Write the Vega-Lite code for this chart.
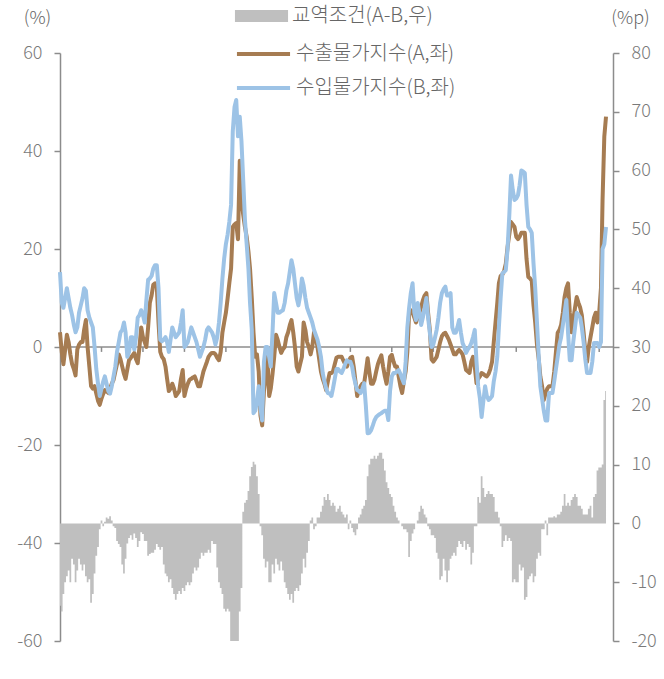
{
"$schema":"https://vega.github.io/schema/vega-lite/v6.json",
"width":553,"height":588,
"autosize":{"type":"none"},
"padding":{"left":60,"top":53,"right":51,"bottom":38},
"background":"white",
"config":{
"view":{"stroke":null},
"font":"Noto Sans CJK KR",
"axis":{"labelFont":"Noto Sans CJK KR","labelFontSize":18,"labelFontWeight":300,"labelColor":"#7a7a7a","domainColor":"#8c8c8c","tickColor":"#8c8c8c","domainWidth":1.5,"tickWidth":1.5,"grid":false,"titleFont":"Noto Sans CJK KR","titleFontSize":18,"titleFontWeight":300,"titleColor":"#666666"},
"legend":{"orient":"none","direction":"vertical","padding":0,"symbolSize":900,"labelOffset":15.5,"labelFontSize":20,"labelFontWeight":300,"labelFont":"Noto Sans CJK KR","labelColor":"#666666","rowPadding":0,"labelLimit":400}
},
"datasets":{
"tk":[{"d":"2002-01-01"},{"d":"2004-01-01"},{"d":"2006-01-01"},{"d":"2008-01-01"},{"d":"2010-01-01"},{"d":"2012-01-01"},{"d":"2014-01-01"},{"d":"2016-01-01"},{"d":"2018-01-01"},{"d":"2020-01-01"},{"d":"2022-01-01"},{"d":"2024-01-01"},{"d":"2026-01-01"}],
"s":[
{"d":"2000-01","a":3,"b":15.3,"t":-14},{"d":"2000-02","a":-1,"b":9,"t":-15},{"d":"2000-03","a":-3.5,"b":8,"t":-12},{"d":"2000-04","a":-0.5,"b":10,"t":-10},{"d":"2000-05","a":2.5,"b":12,"t":-9},{"d":"2000-06","a":1,"b":10,"t":-8},{"d":"2000-07","a":-1.5,"b":8,"t":-10},{"d":"2000-08","a":-3.5,"b":6.5,"t":-6},{"d":"2000-09","a":-4.5,"b":4.5,"t":-7},{"d":"2000-10","a":-5.8,"b":3,"t":-10},{"d":"2000-11","a":-0.5,"b":4,"t":-8},{"d":"2000-12","a":0.5,"b":7,"t":-6},
{"d":"2001-01","a":1,"b":8.5,"t":-7},{"d":"2001-02","a":1,"b":10,"t":-8},{"d":"2001-03","a":3.5,"b":12,"t":-7},{"d":"2001-04","a":5.5,"b":11.5,"t":-9},{"d":"2001-05","a":0,"b":7.5,"t":-10},{"d":"2001-06","a":-4,"b":6,"t":-9.5},{"d":"2001-07","a":-8,"b":5,"t":-13.5},{"d":"2001-08","a":-8.5,"b":4,"t":-12},{"d":"2001-09","a":-8,"b":0,"t":-8.5},{"d":"2001-10","a":-9.5,"b":-4.5,"t":-5.5},{"d":"2001-11","a":-11,"b":-7.5,"t":-4},{"d":"2001-12","a":-11.8,"b":-10,"t":-1},
{"d":"2002-01","a":-10.5,"b":-8.5,"t":0.5},{"d":"2002-02","a":-9.5,"b":-7,"t":-0.5},{"d":"2002-03","a":-8.8,"b":-6,"t":0.3},{"d":"2002-04","a":-9,"b":-7.5,"t":1},{"d":"2002-05","a":-9.4,"b":-9,"t":0.8},{"d":"2002-06","a":-8.5,"b":-9.5,"t":1.2},{"d":"2002-07","a":-7.5,"b":-8,"t":0.5},{"d":"2002-08","a":-6.7,"b":-6,"t":-0.5},{"d":"2002-09","a":-5,"b":-4,"t":-0.8},{"d":"2002-10","a":-3.5,"b":-1,"t":-3},{"d":"2002-11","a":-1.5,"b":1,"t":-3.5},{"d":"2002-12","a":-2.5,"b":3,"t":-4},
{"d":"2003-01","a":-4,"b":3.5,"t":-7},{"d":"2003-02","a":-5.5,"b":5,"t":-8.5},{"d":"2003-03","a":-6.5,"b":3,"t":-6},{"d":"2003-04","a":-4.5,"b":-2,"t":-3.4},{"d":"2003-05","a":-2.7,"b":-1,"t":-2.5},{"d":"2003-06","a":-2.2,"b":2,"t":-2},{"d":"2003-07","a":-1.7,"b":2,"t":-2.8},{"d":"2003-08","a":-1.2,"b":-0.5,"t":-1.7},{"d":"2003-09","a":-2.5,"b":2,"t":-2.5},{"d":"2003-10","a":-3.3,"b":6,"t":-4},{"d":"2003-11","a":0,"b":6.5,"t":-3},{"d":"2003-12","a":4,"b":7.5,"t":-1.5},
{"d":"2004-01","a":2,"b":6.5,"t":-1.8},{"d":"2004-02","a":1,"b":5,"t":-3},{"d":"2004-03","a":0,"b":9.5,"t":-3},{"d":"2004-04","a":4,"b":13.7,"t":-5.5},{"d":"2004-05","a":9,"b":14,"t":-5.2},{"d":"2004-06","a":10.5,"b":14.5,"t":-5},{"d":"2004-07","a":12.7,"b":16,"t":-5},{"d":"2004-08","a":13,"b":16.7,"t":-4.5},{"d":"2004-09","a":12.3,"b":16.7,"t":-3.5},{"d":"2004-10","a":5,"b":12,"t":-4},{"d":"2004-11","a":-1,"b":1.5,"t":-4.5},{"d":"2004-12","a":-2,"b":1.2,"t":-4},
{"d":"2005-01","a":-2.5,"b":1.5,"t":-7},{"d":"2005-02","a":-4,"b":2,"t":-8.5},{"d":"2005-03","a":-6.5,"b":1,"t":-9},{"d":"2005-04","a":-9,"b":-1,"t":-10},{"d":"2005-05","a":-8.5,"b":1.5,"t":-9.5},{"d":"2005-06","a":-7.5,"b":4,"t":-11},{"d":"2005-07","a":-8.5,"b":3,"t":-12},{"d":"2005-08","a":-10,"b":2,"t":-13},{"d":"2005-09","a":-9.5,"b":2.5,"t":-12},{"d":"2005-10","a":-9,"b":3,"t":-11.5},{"d":"2005-11","a":-6.5,"b":5,"t":-12},{"d":"2005-12","a":-4.7,"b":7.5,"t":-11},
{"d":"2006-01","a":-10,"b":0,"t":-11.5},{"d":"2006-02","a":-8.5,"b":0.5,"t":-10.5},{"d":"2006-03","a":-7.5,"b":1,"t":-10},{"d":"2006-04","a":-6.7,"b":2.5,"t":-10.5},{"d":"2006-05","a":-6.5,"b":4,"t":-10},{"d":"2006-06","a":-6.2,"b":3,"t":-8.5},{"d":"2006-07","a":-6,"b":2,"t":-7.5},{"d":"2006-08","a":-7,"b":1,"t":-8},{"d":"2006-09","a":-8,"b":-0.5,"t":-7.5},{"d":"2006-10","a":-8,"b":-2,"t":-6},{"d":"2006-11","a":-6.5,"b":-1,"t":-5},{"d":"2006-12","a":-5,"b":0,"t":-5.5},
{"d":"2007-01","a":-4,"b":1.5,"t":-5},{"d":"2007-02","a":-3,"b":3.5,"t":-5},{"d":"2007-03","a":-2,"b":4,"t":-4.5},{"d":"2007-04","a":-1.5,"b":3.5,"t":-5},{"d":"2007-05","a":-1.2,"b":3,"t":-3},{"d":"2007-06","a":-1.2,"b":2,"t":-3.5},{"d":"2007-07","a":-1.5,"b":0.5,"t":-3.5},{"d":"2007-08","a":-2.2,"b":2,"t":-7.5},{"d":"2007-09","a":-2.7,"b":5,"t":-10},{"d":"2007-10","a":-1,"b":9,"t":-11},{"d":"2007-11","a":3,"b":14,"t":-12},{"d":"2007-12","a":5,"b":18,"t":-14.5},
{"d":"2008-01","a":7,"b":21,"t":-15},{"d":"2008-02","a":10,"b":23,"t":-14.5},{"d":"2008-03","a":13,"b":25.5,"t":-15},{"d":"2008-04","a":16,"b":29,"t":-20},{"d":"2008-05","a":24.5,"b":44,"t":-21},{"d":"2008-06","a":25,"b":49,"t":-22},{"d":"2008-07","a":25.3,"b":50.4,"t":-21},{"d":"2008-08","a":22,"b":43,"t":-20.5},{"d":"2008-09","a":38,"b":47,"t":-15},{"d":"2008-10","a":30,"b":42,"t":-11},{"d":"2008-11","a":27,"b":34,"t":2},{"d":"2008-12","a":24.5,"b":26,"t":3.5},
{"d":"2009-01","a":22.5,"b":21,"t":4},{"d":"2009-02","a":19.5,"b":16,"t":5.5},{"d":"2009-03","a":16,"b":9,"t":8},{"d":"2009-04","a":10,"b":3.5,"t":9.6},{"d":"2009-05","a":3,"b":-13.5,"t":10.5},{"d":"2009-06","a":-2,"b":-13,"t":10},{"d":"2009-07","a":-1.5,"b":-11,"t":8},{"d":"2009-08","a":-5,"b":-8,"t":5},{"d":"2009-09","a":-14,"b":-12.5,"t":-0.5},{"d":"2009-10","a":-16,"b":-15,"t":-2},{"d":"2009-11","a":-9,"b":-3,"t":-6},{"d":"2009-12","a":-6,"b":0,"t":-7.5},
{"d":"2010-01","a":-2,"b":0,"t":-6.5},{"d":"2010-02","a":-10,"b":-2,"t":-10},{"d":"2010-03","a":-8.5,"b":-4,"t":-10},{"d":"2010-04","a":-5.5,"b":3,"t":-7},{"d":"2010-05","a":-2,"b":11,"t":-8.5},{"d":"2010-06","a":2.5,"b":9,"t":-6},{"d":"2010-07","a":1.5,"b":7,"t":-7},{"d":"2010-08","a":0,"b":7,"t":-8},{"d":"2010-09","a":-1.2,"b":7.3,"t":-6.5},{"d":"2010-10","a":-0.5,"b":7.5,"t":-8},{"d":"2010-11","a":0,"b":9,"t":-10},{"d":"2010-12","a":2,"b":11.5,"t":-11},
{"d":"2011-01","a":3,"b":13,"t":-12},{"d":"2011-02","a":4.5,"b":15.5,"t":-13},{"d":"2011-03","a":5.5,"b":17.7,"t":-12},{"d":"2011-04","a":3,"b":16,"t":-13.5},{"d":"2011-05","a":0,"b":13,"t":-11.5},{"d":"2011-06","a":-4,"b":10,"t":-11},{"d":"2011-07","a":-5,"b":8.5,"t":-11.5},{"d":"2011-08","a":-3.5,"b":10.5,"t":-10.5},{"d":"2011-09","a":-2,"b":14,"t":-8.5},{"d":"2011-10","a":5,"b":12.5,"t":-6},{"d":"2011-11","a":3.5,"b":10,"t":-7.5},{"d":"2011-12","a":1,"b":8,"t":-5},
{"d":"2012-01","a":0,"b":7,"t":-3},{"d":"2012-02","a":-1.5,"b":6,"t":0.5},{"d":"2012-03","a":0,"b":5,"t":1},{"d":"2012-04","a":3,"b":3.5,"t":-1},{"d":"2012-05","a":2,"b":2.5,"t":-0.5},{"d":"2012-06","a":0,"b":1.5,"t":1},{"d":"2012-07","a":-2.5,"b":0,"t":1},{"d":"2012-08","a":-5,"b":-2,"t":2},{"d":"2012-09","a":-6.5,"b":-5.3,"t":3},{"d":"2012-10","a":-7.5,"b":-7,"t":4.5},{"d":"2012-11","a":-8.8,"b":-8.5,"t":4},{"d":"2012-12","a":-7,"b":-9.4,"t":5},
{"d":"2013-01","a":-5.3,"b":-9.5,"t":4},{"d":"2013-02","a":-5.3,"b":-10,"t":3},{"d":"2013-03","a":-5,"b":-8.5,"t":3.5},{"d":"2013-04","a":-3.5,"b":-6.5,"t":3},{"d":"2013-05","a":-2.2,"b":-4.5,"t":2},{"d":"2013-06","a":-2,"b":-4.5,"t":2.5},{"d":"2013-07","a":-2,"b":-5,"t":3},{"d":"2013-08","a":-2,"b":-5.3,"t":2},{"d":"2013-09","a":-2.8,"b":-4.5,"t":1.5},{"d":"2013-10","a":-3.5,"b":-3.5,"t":1},{"d":"2013-11","a":-4,"b":-2.7,"t":1.5},{"d":"2013-12","a":-3,"b":-3,"t":-1},
{"d":"2014-01","a":-2.2,"b":-3,"t":0.5},{"d":"2014-02","a":-2,"b":-4,"t":-0.8},{"d":"2014-03","a":-4,"b":-6,"t":-1.5},{"d":"2014-04","a":-7,"b":-7.5,"t":-2},{"d":"2014-05","a":-10,"b":-8.8,"t":-1},{"d":"2014-06","a":-9,"b":-9,"t":1},{"d":"2014-07","a":-8,"b":-9.4,"t":1.5},{"d":"2014-08","a":-7.5,"b":-8.5,"t":2.5},{"d":"2014-09","a":-7.4,"b":-7.4,"t":3},{"d":"2014-10","a":-5,"b":-12,"t":4},{"d":"2014-11","a":-2.3,"b":-17.6,"t":8},{"d":"2014-12","a":-5,"b":-17.5,"t":10},
{"d":"2015-01","a":-7.5,"b":-17,"t":11},{"d":"2015-02","a":-7.5,"b":-16,"t":11},{"d":"2015-03","a":-6.7,"b":-15,"t":11.5},{"d":"2015-04","a":-5,"b":-14.3,"t":11},{"d":"2015-05","a":-3.5,"b":-14,"t":11.5},{"d":"2015-06","a":-2.5,"b":-13.7,"t":12},{"d":"2015-07","a":-1.7,"b":-13.5,"t":12},{"d":"2015-08","a":-4,"b":-13.2,"t":11},{"d":"2015-09","a":-6,"b":-13,"t":9},{"d":"2015-10","a":-7.5,"b":-13,"t":7},{"d":"2015-11","a":-5,"b":-14.9,"t":6},{"d":"2015-12","a":-2,"b":-9,"t":5},
{"d":"2016-01","a":-1.6,"b":-6,"t":4.5},{"d":"2016-02","a":-3,"b":-5.3,"t":3},{"d":"2016-03","a":-4,"b":-5.3,"t":2},{"d":"2016-04","a":-4,"b":-5,"t":1},{"d":"2016-05","a":-6,"b":-4.7,"t":0.5},{"d":"2016-06","a":-8,"b":-5.5,"t":0},{"d":"2016-07","a":-9.4,"b":-6.5,"t":-0.5},{"d":"2016-08","a":-7,"b":-7.4,"t":-1},{"d":"2016-09","a":-5,"b":-3,"t":-1},{"d":"2016-10","a":-1,"b":4,"t":-1.5},{"d":"2016-11","a":7,"b":8,"t":-5.7},{"d":"2016-12","a":7.5,"b":11,"t":-3},
{"d":"2017-01","a":7,"b":13,"t":-1.7},{"d":"2017-02","a":6,"b":7,"t":-1},{"d":"2017-03","a":5,"b":5.5,"t":0},{"d":"2017-04","a":6,"b":9,"t":0.5},{"d":"2017-05","a":7,"b":7,"t":2},{"d":"2017-06","a":8.2,"b":4.5,"t":3},{"d":"2017-07","a":9.5,"b":6,"t":2.5},{"d":"2017-08","a":10.5,"b":8,"t":1.5},{"d":"2017-09","a":11,"b":10,"t":1},{"d":"2017-10","a":7,"b":6,"t":-0.5},{"d":"2017-11","a":3.5,"b":2.9,"t":-1},{"d":"2017-12","a":-2.5,"b":0,"t":-2},
{"d":"2018-01","a":-3,"b":0.5,"t":-2},{"d":"2018-02","a":-2.5,"b":2,"t":-2.5},{"d":"2018-03","a":-2,"b":3.5,"t":-5},{"d":"2018-04","a":-0.5,"b":6,"t":-6},{"d":"2018-05","a":1,"b":9,"t":-9.6},{"d":"2018-06","a":2.2,"b":11,"t":-9},{"d":"2018-07","a":2.7,"b":11.8,"t":-6},{"d":"2018-08","a":2.9,"b":12.3,"t":-8},{"d":"2018-09","a":2.2,"b":10.5,"t":-10},{"d":"2018-10","a":1.5,"b":10.5,"t":-8},{"d":"2018-11","a":0.5,"b":11,"t":-6},{"d":"2018-12","a":-0.5,"b":4,"t":-5.5},
{"d":"2019-01","a":-1.5,"b":2.9,"t":-5},{"d":"2019-02","a":-1.5,"b":2.9,"t":-5.5},{"d":"2019-03","a":-1,"b":4,"t":-4},{"d":"2019-04","a":-0.6,"b":5.5,"t":-3},{"d":"2019-05","a":-1,"b":3,"t":-3.5},{"d":"2019-06","a":-1.5,"b":0.8,"t":-4},{"d":"2019-07","a":-3,"b":0,"t":-3},{"d":"2019-08","a":-4.7,"b":-1.2,"t":-4.5},{"d":"2019-09","a":-5,"b":-0.5,"t":-3.5},{"d":"2019-10","a":-5.3,"b":0,"t":-4},{"d":"2019-11","a":-3,"b":0.8,"t":-7},{"d":"2019-12","a":-2,"b":2,"t":-5},
{"d":"2020-01","a":-4,"b":3.5,"t":-0.5},{"d":"2020-02","a":-7.4,"b":-3,"t":-0.5},{"d":"2020-03","a":-6.5,"b":-8,"t":4.5},{"d":"2020-04","a":-6,"b":-10.5,"t":3.5},{"d":"2020-05","a":-5.3,"b":-14.3,"t":8},{"d":"2020-06","a":-5.5,"b":-11,"t":6},{"d":"2020-07","a":-5.8,"b":-8,"t":4.5},{"d":"2020-08","a":-6,"b":-10,"t":5},{"d":"2020-09","a":-5.5,"b":-10.8,"t":5.5},{"d":"2020-10","a":-4.5,"b":-10.5,"t":5},{"d":"2020-11","a":-3,"b":-10,"t":5},{"d":"2020-12","a":1,"b":-7,"t":4.5},
{"d":"2021-01","a":5,"b":-5,"t":2},{"d":"2021-02","a":9,"b":-2,"t":2},{"d":"2021-03","a":13,"b":4,"t":1},{"d":"2021-04","a":14.5,"b":10,"t":-0.5},{"d":"2021-05","a":14.8,"b":15,"t":-4},{"d":"2021-06","a":15.5,"b":15.3,"t":-3},{"d":"2021-07","a":17,"b":15.7,"t":-2},{"d":"2021-08","a":20.4,"b":20,"t":-3},{"d":"2021-09","a":23,"b":27,"t":-2.5},{"d":"2021-10","a":25.5,"b":35,"t":-3},{"d":"2021-11","a":25,"b":32,"t":-10},{"d":"2021-12","a":24.5,"b":30,"t":-9.5},
{"d":"2022-01","a":22.5,"b":30.3,"t":-10},{"d":"2022-02","a":22,"b":31,"t":-10},{"d":"2022-03","a":22.5,"b":33,"t":-7},{"d":"2022-04","a":23.3,"b":36,"t":-8},{"d":"2022-05","a":23.3,"b":35.8,"t":-7.5},{"d":"2022-06","a":23.3,"b":35.5,"t":-13},{"d":"2022-07","a":18,"b":29,"t":-12.5},{"d":"2022-08","a":14.3,"b":24.5,"t":-9.5},{"d":"2022-09","a":14,"b":24,"t":-9},{"d":"2022-10","a":13.5,"b":23.3,"t":-8.5},{"d":"2022-11","a":8.5,"b":17,"t":-10},{"d":"2022-12","a":5,"b":12,"t":-9},
{"d":"2023-01","a":0.5,"b":5,"t":-6},{"d":"2023-02","a":-2.5,"b":-2,"t":-5},{"d":"2023-03","a":-6,"b":-8,"t":-5.5},{"d":"2023-04","a":-8,"b":-10.5,"t":-1},{"d":"2023-05","a":-10.8,"b":-13,"t":-1},{"d":"2023-06","a":-9.5,"b":-15,"t":0.5},{"d":"2023-07","a":-8.5,"b":-15,"t":-2},{"d":"2023-08","a":-8,"b":-9.4,"t":1},{"d":"2023-09","a":-8,"b":-9.4,"t":1},{"d":"2023-10","a":-8,"b":-9.4,"t":1},{"d":"2023-11","a":-5,"b":-7,"t":1.2},{"d":"2023-12","a":-1,"b":-4.5,"t":1},
{"d":"2024-01","a":2.9,"b":-2,"t":1.5},{"d":"2024-02","a":3.5,"b":0.5,"t":1.5},{"d":"2024-03","a":4.5,"b":2,"t":2},{"d":"2024-04","a":7,"b":4.5,"t":3},{"d":"2024-05","a":10.2,"b":7,"t":5},{"d":"2024-06","a":12,"b":9.6,"t":3},{"d":"2024-07","a":13,"b":3,"t":3.5},{"d":"2024-08","a":7,"b":-2.7,"t":3},{"d":"2024-09","a":3,"b":-2.7,"t":4},{"d":"2024-10","a":5.5,"b":1,"t":4.5},{"d":"2024-11","a":8,"b":4,"t":5},{"d":"2024-12","a":10.2,"b":7,"t":4.5},
{"d":"2025-01","a":9,"b":6.5,"t":3},{"d":"2025-02","a":8,"b":6,"t":3},{"d":"2025-03","a":6.5,"b":4,"t":2.5},{"d":"2025-04","a":3,"b":1,"t":1.5},{"d":"2025-05","a":-1,"b":-2.5,"t":1.5},{"d":"2025-06","a":-3,"b":-5.3,"t":1.5},{"d":"2025-07","a":0,"b":-5.3,"t":2.5},{"d":"2025-08","a":2,"b":-5.3,"t":3},{"d":"2025-09","a":4,"b":-3,"t":1},{"d":"2025-10","a":6,"b":0.8,"t":4.5},{"d":"2025-11","a":7,"b":0.8,"t":5},{"d":"2025-12","a":5,"b":0.8,"t":9},
{"d":"2026-01","a":7,"b":0,"t":9.5},{"d":"2026-02","a":12,"b":1,"t":9.5},{"d":"2026-03","a":30,"b":20,"t":10},{"d":"2026-04","a":43,"b":21,"t":21},{"d":"2026-05","a":47,"b":24.5,"t":22.5}
]},
"layer":[
{"data":{"name":"s"},
"mark":{"type":"area","clip":true,"interpolate":"step","color":"#bfbfbf","timeUnitBandPosition":0.5},
"encoding":{
"x":{"field":"d","type":"temporal","timeUnit":"utcyearmonth","scale":{"type":"utc","domain":[{"year":2000,"month":1,"date":1,"utc":true},{"year":2026,"month":9,"date":1,"utc":true}]},
"axis":{"orient":"bottom","domain":false,"ticks":false,"labelPadding":12,"tickCount":{"interval":"year","step":2},"format":"'%y","labelFlush":false,"labelOverlap":false,"title":null}},
"y":{"field":"t","type":"quantitative","scale":{"domain":[-20,80],"nice":false,"zero":false},
"axis":{"orient":"right","values":[-20,-10,0,10,20,30,40,50,60,70,80],"labelExpr":"replace(datum.label, '−', '-')","tickSize":6,"labelPadding":12,"title":"(%p)","titleAngle":0,"titleX":17,"titleY":-35,"titleAlign":"center","titleBaseline":"middle"}},
"y2":{"datum":0},
"fill":{"datum":"교역조건(A-B,우)","type":"nominal","scale":{"domain":["교역조건(A-B,우)"],"range":["#bfbfbf"]},
"legend":{"title":null,"legendX":186.5,"legendY":-52,"symbolType":"M-1.77,-0.4H1.77V0.4H-1.77Z","symbolStrokeWidth":0,"symbolOpacity":1}}
}},
{"layer":[
{"data":{"values":[{}]},
"mark":{"type":"rule","color":"#8c8c8c","strokeWidth":1.5},
"encoding":{"y":{"datum":0,"type":"quantitative","scale":{"domain":[-60,60],"nice":false},
"axis":{"orient":"left","values":[-60,-40,-20,0,20,40,60],"labelExpr":"replace(datum.label, '−', '-')","tickSize":6,"labelPadding":12,"title":"(%)","titleAngle":0,"titleX":-23,"titleY":-35,"titleAlign":"center","titleBaseline":"middle"}}}},
{"data":{"name":"tk"},
"mark":{"type":"rule","color":"#8c8c8c","strokeWidth":1.5},
"encoding":{"x":{"field":"d","type":"temporal","axis":null},"y":{"datum":0,"type":"quantitative"},"y2":{"datum":-1}}},
{"data":{"name":"s"},
"mark":{"type":"line","strokeWidth":4,"strokeJoin":"round","timeUnitBandPosition":0.5},
"encoding":{"x":{"field":"d","type":"temporal","timeUnit":"utcyearmonth","axis":null},"y":{"field":"a","type":"quantitative"},
"stroke":{"datum":"수출물가지수(A,좌)","type":"nominal","scale":{"domain":["수출물가지수(A,좌)","수입물가지수(B,좌)"],"range":["#a67c52","#9dc3e6"]},
"legend":{"title":null,"legendX":186.5,"legendY":-16,"rowPadding":7,"symbolType":"M-1.77,0H1.77","symbolStrokeWidth":4,"symbolOpacity":1}}}},
{"data":{"name":"s"},
"mark":{"type":"line","strokeWidth":4,"strokeJoin":"round","timeUnitBandPosition":0.5},
"encoding":{"x":{"field":"d","type":"temporal","timeUnit":"utcyearmonth","axis":null},"y":{"field":"b","type":"quantitative"},"stroke":{"datum":"수입물가지수(B,좌)","type":"nominal"}}}
]}
],
"resolve":{"scale":{"y":"independent"}}
}
